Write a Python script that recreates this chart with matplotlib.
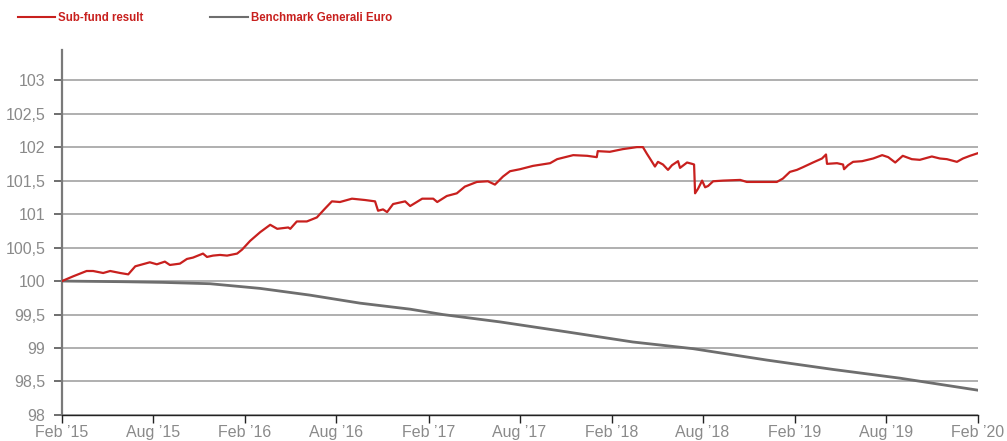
import pandas as pd
import matplotlib
matplotlib.use("Agg")
import matplotlib.pyplot as plt
from matplotlib.lines import Line2D
from matplotlib.ticker import FuncFormatter
from matplotlib import font_manager

# Sub-fund result
fund_dates = [
    "2015-02-01", "2015-02-23", "2015-03-22", "2015-04-04", "2015-04-24", "2015-05-08",
    "2015-05-28", "2015-06-13", "2015-06-27", "2015-07-26", "2015-08-09", "2015-08-25",
    "2015-09-04", "2015-09-24", "2015-10-08", "2015-10-20", "2015-11-09", "2015-11-17",
    "2015-11-29", "2015-12-13", "2015-12-27", "2016-01-16", "2016-01-26", "2016-02-11",
    "2016-03-02", "2016-03-22", "2016-04-05", "2016-04-27", "2016-05-01", "2016-05-14",
    "2016-06-03", "2016-06-23", "2016-07-09", "2016-07-23", "2016-08-08", "2016-09-01",
    "2016-09-27", "2016-10-17", "2016-10-23", "2016-11-02", "2016-11-10", "2016-11-22",
    "2016-12-16", "2016-12-26", "2017-01-19", "2017-02-10", "2017-02-18", "2017-03-09",
    "2017-03-29", "2017-04-14", "2017-05-08", "2017-05-30", "2017-06-13", "2017-06-29",
    "2017-07-13", "2017-08-02", "2017-08-28", "2017-10-01", "2017-10-15", "2017-11-16",
    "2017-12-14", "2018-01-02", "2018-01-04", "2018-01-28", "2018-02-23", "2018-03-23",
    "2018-04-04", "2018-04-12", "2018-04-18", "2018-04-28", "2018-05-04", "2018-05-14",
    "2018-05-24", "2018-06-01", "2018-06-13", "2018-06-17", "2018-07-01", "2018-07-11",
    "2018-07-15", "2018-07-17", "2018-07-23", "2018-07-31", "2018-08-06", "2018-08-12",
    "2018-08-22", "2018-09-11", "2018-10-15", "2018-10-28", "2018-11-23", "2018-12-27",
    "2019-01-08", "2019-01-22", "2019-02-05", "2019-02-17", "2019-03-09", "2019-03-27",
    "2019-04-04", "2019-04-06", "2019-04-26", "2019-05-08", "2019-05-10", "2019-05-18",
    "2019-05-28", "2019-06-15", "2019-07-07", "2019-07-25", "2019-08-06", "2019-08-20",
    "2019-09-04", "2019-09-22", "2019-10-08", "2019-11-01", "2019-11-17", "2019-12-01",
    "2019-12-21", "2020-01-02", "2020-01-16", "2020-02-01",
]
fund_values = [
    100.00, 100.07, 100.15, 100.15, 100.12, 100.15,
    100.12, 100.10, 100.22, 100.28, 100.25, 100.29,
    100.24, 100.26, 100.33, 100.35, 100.41, 100.36,
    100.38, 100.39, 100.38, 100.41, 100.47, 100.60,
    100.73, 100.84, 100.78, 100.80, 100.78, 100.89,
    100.89, 100.95, 101.08, 101.19, 101.18, 101.23,
    101.21, 101.19, 101.05, 101.07, 101.03, 101.15,
    101.19, 101.12, 101.23, 101.23, 101.18, 101.27,
    101.31, 101.41, 101.48, 101.49, 101.44, 101.56,
    101.64, 101.67, 101.72, 101.76, 101.82, 101.88,
    101.87, 101.85, 101.94, 101.93, 101.97, 102.00,
    102.00, 101.90, 101.83, 101.71, 101.78, 101.74,
    101.66, 101.73, 101.79, 101.69, 101.77, 101.75,
    101.74, 101.31, 101.38, 101.50, 101.40, 101.42,
    101.49, 101.50, 101.51, 101.48, 101.48, 101.48,
    101.53, 101.63, 101.66, 101.70, 101.77, 101.83,
    101.89, 101.75, 101.76, 101.74, 101.67, 101.73,
    101.78, 101.79, 101.83, 101.88, 101.85, 101.77,
    101.87, 101.82, 101.81, 101.86, 101.83, 101.82,
    101.78, 101.83, 101.87, 101.91,
]

# Benchmark Generali Euro
bench_dates = [
    "2015-02-01", "2015-06-03", "2015-08-21", "2015-11-23", "2016-03-02", "2016-06-09",
    "2016-09-17", "2016-12-26", "2017-03-01", "2017-06-23", "2017-11-04", "2018-03-15",
    "2018-07-13", "2018-12-07", "2019-04-18", "2019-08-29", "2020-02-01",
]
bench_values = [
    100.00, 99.99, 99.98, 99.96, 99.89, 99.79,
    99.67, 99.58, 99.50, 99.39, 99.24, 99.09,
    98.99, 98.82, 98.68, 98.55, 98.37,
]

tick_dates = ["2015-02-01", "2015-08-01", "2016-02-01", "2016-08-01", "2017-02-01", "2017-08-01",
              "2018-02-01", "2018-08-01", "2019-02-01", "2019-08-01", "2020-02-01"]
tick_labels = ["Feb \u201915", "Aug \u201915", "Feb \u201916", "Aug \u201916", "Feb \u201917", "Aug \u201917",
               "Feb \u201918", "Aug \u201918", "Feb \u201919", "Aug \u201919", "Feb \u201920"]
y_ticks = [98, 98.5, 99, 99.5, 100, 100.5, 101, 101.5, 102, 102.5, 103]

RED = "#c8201e"
GREY = "#6e6e6e"
LABEL = "#8a8a8a"

plt.rcParams['font.family'] = ['Liberation Sans', 'DejaVu Sans']

# a narrow bold face for the legend, if one is installed
installed = {f.name for f in font_manager.fontManager.ttflist}
if 'Liberation Sans Narrow' in installed:
    leg_font = dict(family='Liberation Sans Narrow', fontsize=9.5)
else:
    leg_font = dict(family='Liberation Sans', fontsize=8.3)

fig = plt.figure(figsize=(10.07, 4.41), dpi=100)
ax = fig.add_axes([0.0616, 0.059, 0.9096, 0.8276])

ax.plot(pd.to_datetime(bench_dates), bench_values, color=GREY, lw=2.0, zorder=3)
ax.plot(pd.to_datetime(fund_dates), fund_values, color=RED, lw=1.6, zorder=4)

ax.set_xlim(pd.Timestamp("2015-02-01"), pd.Timestamp("2020-02-01"))
ax.set_ylim(98, 103.45)
ax.set_yticks(y_ticks)
ax.yaxis.set_major_formatter(FuncFormatter(lambda v, p: f"{v:g}".replace(".", ",")))
ax.set_xticks(pd.to_datetime(tick_dates))
ax.set_xticklabels(tick_labels)

ax.grid(axis='y', color="#9a9a9a", lw=1.1, zorder=1)
for s in ["top", "right"]:
    ax.spines[s].set_visible(False)
ax.spines["left"].set_color("#7a7a7a")
ax.spines["left"].set_linewidth(1.6)
ax.spines["bottom"].set_color("#222222")
ax.spines["bottom"].set_linewidth(1.0)
ax.tick_params(axis='y', length=6, width=1.2, color="#555555", pad=6,
               labelsize=11.5, labelcolor=LABEL)
ax.tick_params(axis='x', length=6, width=1.0, color="#222222", pad=1,
               labelsize=11.5, labelcolor=LABEL)

# legend drawn on the figure
fig.add_artist(Line2D([0.018, 0.055], [0.962, 0.962], color=RED, lw=1.5, transform=fig.transFigure))
fig.text(0.058, 0.960, "Sub-fund result", color=RED, fontweight='bold',
         va='center', ha='left', **leg_font)
fig.add_artist(Line2D([0.209, 0.246], [0.962, 0.962], color=GREY, lw=1.5, transform=fig.transFigure))
fig.text(0.249, 0.960, "Benchmark Generali Euro", color=RED, fontweight='bold',
         va='center', ha='left', **leg_font)

fig.savefig("out.png", dpi=100)
